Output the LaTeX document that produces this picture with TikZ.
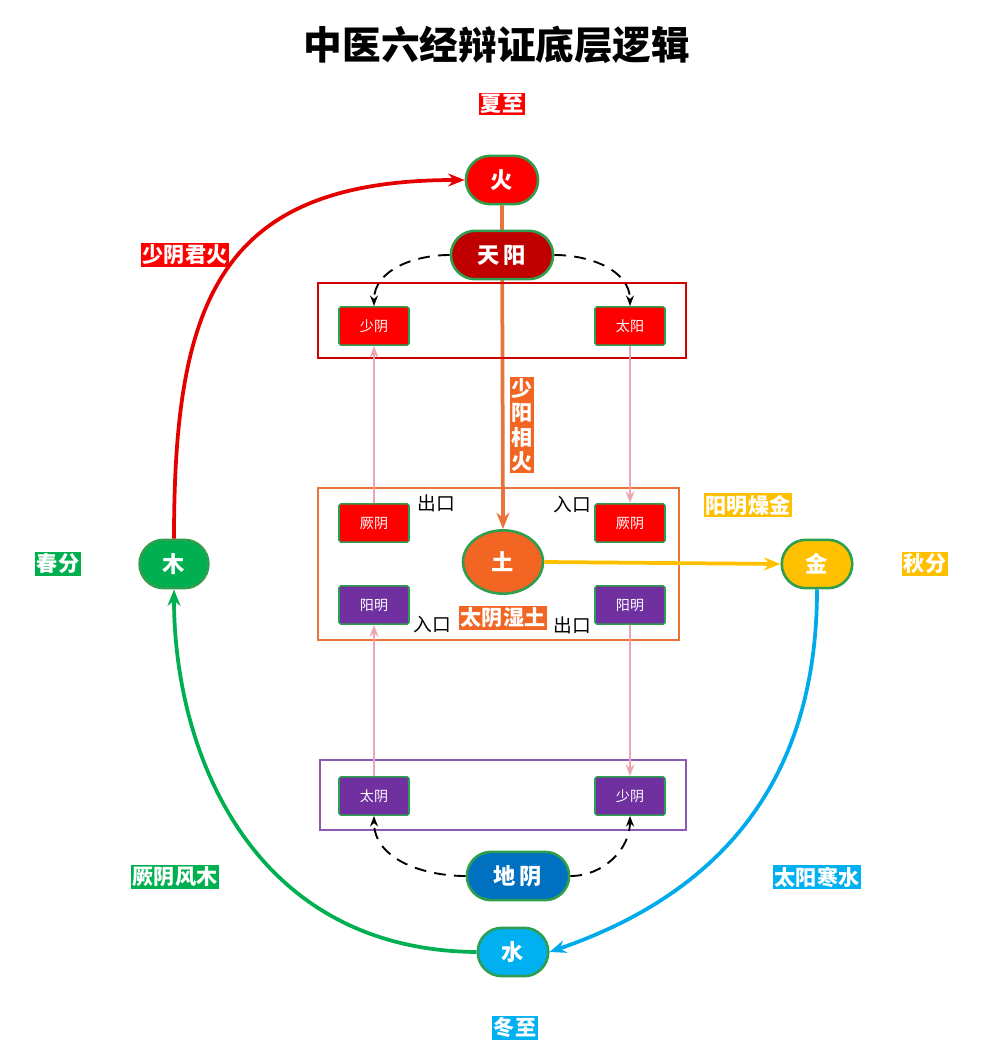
\documentclass[tikz,border=0pt]{standalone}
\usepackage{fontspec}
\setmainfont{Noto Sans CJK SC}
\usetikzlibrary{arrows.meta,shapes.misc,shapes.geometric,backgrounds}
\definecolor{fireRed}{HTML}{FF0000}
\definecolor{darkRed}{HTML}{C00000}
\definecolor{earthOr}{HTML}{F26522}
\definecolor{lineOr}{HTML}{E9743A}
\definecolor{goldY}{HTML}{FFC000}
\definecolor{woodG}{HTML}{00B050}
\definecolor{waterB}{HTML}{00B0F0}
\definecolor{deepB}{HTML}{0070C0}
\definecolor{purp}{HTML}{7030A0}
\definecolor{pinkL}{HTML}{EBA7B0}
\definecolor{edgeG}{HTML}{2E9E4F}
\tikzset{
  pill/.style={rounded rectangle, draw=edgeG, line width=2.2pt, text=white, font=\bfseries\fontsize{19}{22}\selectfont, minimum height=1.45cm},
  meridian/.style={rectangle, rounded corners=1.5pt, draw=edgeG, line width=1.3pt, text=white, font=\fontsize{12}{14}\selectfont, minimum width=2.1cm, minimum height=1.15cm},
  tag/.style={fill=#1, text=white, font=\bfseries\fontsize{18}{21}\selectfont, inner sep=1.5pt},
  mouth/.style={font=\fontsize{16}{18}\selectfont},
  pinkarrow/.style={pinkL, line width=1.8pt, -{Stealth[length=10pt]}},
  dasharrow/.style={dash pattern=on 10pt off 7pt, line width=1.6pt, -{Stealth[length=9pt]}},
  cycle/.style={line width=3.2pt, -{Stealth[length=14pt,width=11pt]}}
}
\begin{document}
\begin{tikzpicture}[x=0.3cm,y=-0.3cm]
\useasboundingbox (0,0) rectangle (100,105.6);
% title
\node[font=\bfseries\fontsize{33}{38}\selectfont] (title) at (49.7,4.5) {中医六经辩证底层逻辑};
% frames
\draw[darkRed!70!fireRed, line width=2pt] (31.8,28.3) rectangle (68.6,35.8);
\draw[lineOr, line width=2.2pt] (31.8,48.8) rectangle (67.9,64);
\draw[purp!80, line width=2pt] (32,76) rectangle (68.6,83);
% five phases
\node[pill, fill=fireRed, minimum width=2.4cm] (huo) at (50.2,18) {火};
\node[pill, fill=darkRed, minimum width=3.3cm] (tianyang) at (50.2,25.5) {天\,阳};
\node[pill, fill=woodG, minimum width=2.3cm] (mu) at (17.4,56.4) {木};
\node[pill, fill=goldY, minimum width=2.35cm] (jin) at (81.7,56.4) {金};
\node[ellipse, draw=edgeG, line width=2.2pt, fill=earthOr, text=white, font=\bfseries\fontsize{19}{22}\selectfont, minimum width=2.4cm, minimum height=1.9cm] (tu) at (50.3,56.2) {土};
\node[pill, fill=deepB, minimum width=3.3cm] (diyin) at (51.8,87.6) {地\,阴};
\node[pill, fill=waterB, minimum width=2.35cm] (shui) at (51.3,95.2) {水};
% meridians
\node[meridian, fill=fireRed] (shaoyangT) at (37.4,32.6) {少阴};
\node[meridian, fill=fireRed] (taiyangT) at (63,32.6) {太阳};
\node[meridian, fill=fireRed] (jueyinL) at (37.4,52.3) {厥阴};
\node[meridian, fill=fireRed] (jueyinR) at (63,52.3) {厥阴};
\node[meridian, fill=purp] (yangmingL) at (37.4,60.5) {阳明};
\node[meridian, fill=purp] (yangmingR) at (63,60.5) {阳明};
\node[meridian, fill=purp] (taiyinB) at (37.4,79.6) {太阴};
\node[meridian, fill=purp] (shaoyinB) at (63,79.6) {少阴};
% tags
\node[tag=fireRed] (xiazhi) at (50.2,10.4) {夏至};
\node[tag=fireRed] (shaoyinjh) at (18.5,25.5) {少阴君火};
\node[tag=woodG] (chunfen) at (5.8,56.4) {春分};
\node[tag=goldY] (qiufen) at (92.5,56.4) {秋分};
\node[tag=goldY] (ymzj) at (74.8,50.5) {阳明燥金};
\node[tag=woodG] (jyfm) at (17.5,87.7) {厥阴风木};
\node[tag=waterB] (tyhs) at (81.7,87.7) {太阳寒水};
\node[tag=waterB] (dongzhi) at (51.5,102.8) {冬至};
\node[tag=earthOr] (tysx) at (50.3,61.8) {太阴湿土};
\node[tag=earthOr, align=center, inner sep=1pt] (syxh) at (52.2,42.5) {少\\阳\\相\\火};
\node[mouth] (out1) at (43.6,50.3) {出口};
\node[mouth] (in1) at (57.2,50.5) {入口};
\node[mouth] (in2) at (43.2,62.5) {入口};
\node[mouth] (out2) at (57.2,62.5) {出口};
% cycle
\draw[cycle, fireRed!90!black] (mu.north) .. controls (17.4,30) and (22,18) .. (huo.west);
\draw[cycle, woodG] (shui.west) .. controls (25,95) and (17.4,75) .. (mu.south);
\draw[cycle, waterB!90!deepB] (jin.south) .. controls (81.7,80) and (70,90) .. (shui.east);
\draw[cycle, goldY] (tu.east) -- (jin.west);
\begin{scope}[on background layer]
\draw[cycle, lineOr] (huo.south) -- (tu.north);
\end{scope}
% branches
\draw[dasharrow] (tianyang.west) to[out=180,in=90] (shaoyangT.north);
\draw[dasharrow] (tianyang.east) to[out=0,in=90] (taiyangT.north);
\draw[dasharrow] (diyin.west) to[out=180,in=-90] (taiyinB.south);
\draw[dasharrow] (diyin.east) to[out=0,in=-90] (shaoyinB.south);
\draw[pinkarrow] (jueyinL.north) -- (shaoyangT.south);
\draw[pinkarrow] (taiyangT.south) -- (jueyinR.north);
\draw[pinkarrow] (taiyinB.north) -- (yangmingL.south);
\draw[pinkarrow] (yangmingR.south) -- (shaoyinB.north);
\end{tikzpicture}
\end{document}
